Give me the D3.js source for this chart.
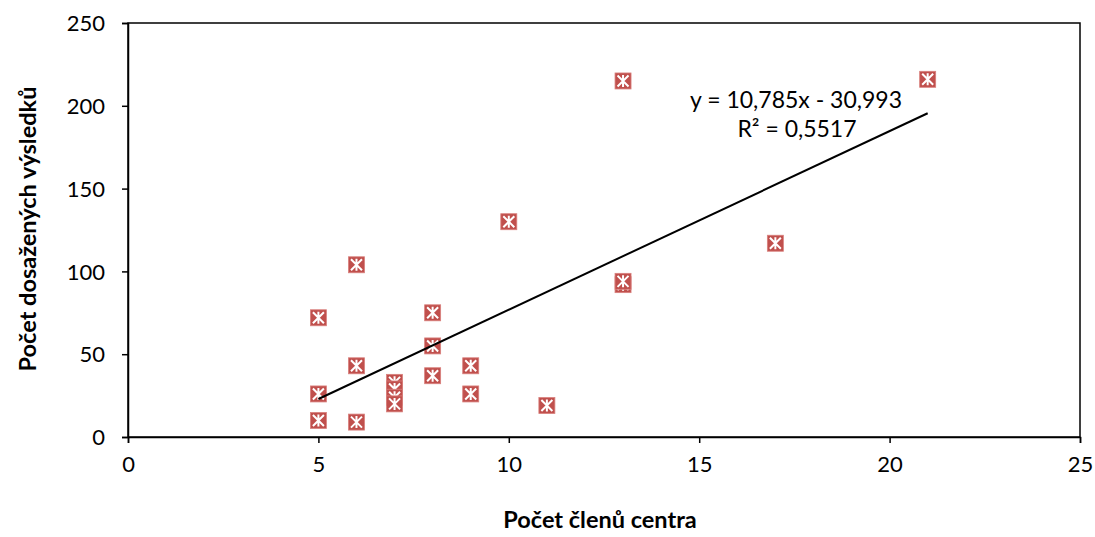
<!DOCTYPE html>
<html>
<head>
<meta charset="utf-8">
<script src="https://cdn.jsdelivr.net/npm/d3@7"></script>
<style>
  body { margin: 0; background: #fff; }
  text { font-family: Lato, "Liberation Sans", sans-serif; fill: #000; }
</style>
</head>
<body>
<div id="chart"></div>
<script>
// data
var members = [5, 5, 5, 6, 6, 6, 7, 7, 7, 7, 8, 8, 8, 9, 9, 10, 11, 13, 13, 13, 17, 21];
var results = [72, 26, 10, 104, 43, 9, 33, 29, 24, 20, 75, 55, 37, 43, 26, 130, 19, 215, 92, 94, 117, 216];
var xTicks = [0, 5, 10, 15, 20, 25];
var yTicks = [0, 50, 100, 150, 200, 250];
var trendCoef = [10.785, -30.993];   // slope, intercept
var trendRange = [5, 21];
var trendLabels = ["y = 10,785x - 30,993", "R² = 0,5517"];

var W = 1095, H = 537;
var border = {top: 23, right: 15, bottom: 100, left: 128};
var pw = W - border.left - border.right;
var ph = H - border.top - border.bottom;

var xScale = d3.scaleLinear().domain([0, 25]).range([0, pw]);
var yScale = d3.scaleLinear().domain([0, 250]).range([ph, 0]);

var svg = d3.select("#chart").append("svg").attr("width", W).attr("height", H);
var g = svg.append("g").attr("transform", "translate(" + border.left + "," + border.top + ")");

// plot border
g.append("rect").attr("width", pw).attr("height", ph)
  .style("fill", "none").style("stroke", "#000").style("stroke-width", 1.5);

// axes
var xAxis = d3.axisBottom(xScale).tickValues(xTicks).tickSize(6).tickPadding(13);
var yAxis = d3.axisLeft(yScale).tickValues(yTicks).tickSize(6).tickPadding(17);
var gx = g.append("g").attr("transform", "translate(0," + ph + ")").call(xAxis);
var gy = g.append("g").call(yAxis);
[gx, gy].forEach(function(a) {
  a.select(".domain").attr("stroke", "#000").attr("stroke-width", 1.5);
  a.selectAll(".tick line").attr("stroke", "#000").attr("stroke-width", 1.5);
  a.selectAll(".tick text").style("font-size", "22px").attr("fill", "#000");
});
gy.selectAll(".tick text").attr("dy", "0.35em");

// axis titles
svg.append("text")
  .attr("x", border.left + pw / 2 - 4).attr("y", 528)
  .attr("text-anchor", "middle")
  .style("font-size", "23.5px").style("font-weight", "bold")
  .text("Počet členů centra");
svg.append("text")
  .attr("transform", "translate(36," + (border.top + ph / 2 - 1) + ") rotate(-90)")
  .attr("text-anchor", "middle")
  .style("font-size", "23.5px").style("font-weight", "bold")
  .text("Počet dosažených výsledků");

// points: red square with white star
var pts = d3.zip(members, results);
var s = 8;
var mk = g.selectAll(".pt").data(pts).enter().append("g").attr("class", "pt")
  .attr("transform", function(d) { return "translate(" + xScale(d[0]) + "," + yScale(d[1]) + ")"; });
mk.append("rect").attr("x", -s).attr("y", -s).attr("width", 2 * s).attr("height", 2 * s)
  .attr("fill", "#c0504d").attr("stroke", "#d9807d").attr("stroke-width", 0.8);
mk.append("path")
  .attr("d", "M" + (-s + 2.5) + "," + (-s + 2.5) + "L" + (s - 2.5) + "," + (s - 2.5)
    + "M" + (s - 2.5) + "," + (-s + 2.5) + "L" + (-s + 2.5) + "," + (s - 2.5)
    + "M0," + (-s + 2) + "L0," + (s - 2))
  .attr("stroke", "#fff").attr("stroke-width", 2).attr("fill", "none");

// trend line
g.append("line")
  .attr("x1", xScale(trendRange[0])).attr("y1", yScale(trendCoef[0] * trendRange[0] + trendCoef[1]))
  .attr("x2", xScale(trendRange[1])).attr("y2", yScale(trendCoef[0] * trendRange[1] + trendCoef[1]))
  .attr("stroke", "#000").attr("stroke-width", 2);

// trend label
svg.append("text").attr("x", 796).attr("y", 108).attr("text-anchor", "middle")
  .style("font-size", "23px").text(trendLabels[0]);
svg.append("text").attr("x", 797).attr("y", 137).attr("text-anchor", "middle")
  .style("font-size", "23px").text(trendLabels[1]);
</script>
</body>
</html>
